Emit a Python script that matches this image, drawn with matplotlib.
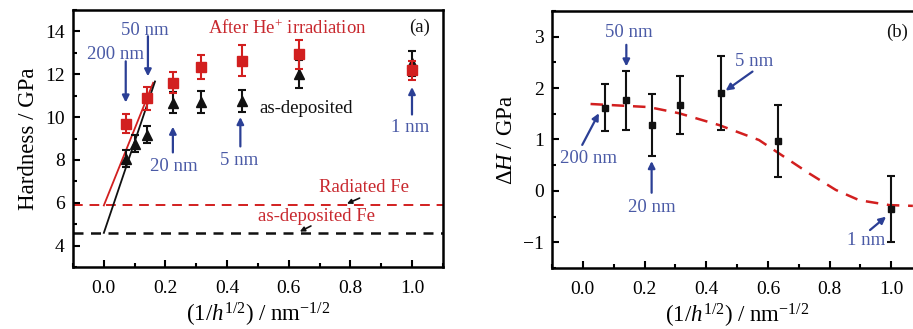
import matplotlib
matplotlib.use("Agg")
import matplotlib.pyplot as plt
import numpy as np

plt.rcParams['font.family'] = ['Liberation Serif', 'DejaVu Serif']
plt.rcParams['mathtext.fontset'] = 'custom'
plt.rcParams['mathtext.rm'] = 'Liberation Serif'
plt.rcParams['mathtext.it'] = 'Liberation Serif:italic'
plt.rcParams['mathtext.bf'] = 'Liberation Serif:bold'

# ---------------- data ----------------
# panel (a): hardness vs 1/sqrt(h)
irr_x = [0.0707, 0.1414, 0.2236, 0.3162, 0.4472, 0.6325, 1.0]
irr_y = [9.70, 10.87, 11.60, 12.33, 12.62, 12.93, 12.18]
irr_err = [0.45, 0.55, 0.50, 0.57, 0.72, 0.68, 0.45]

dep_x = [0.0707, 0.1, 0.1414, 0.2236, 0.3162, 0.4472, 0.6325, 1.0]
dep_y = [8.05, 8.75, 9.18, 10.67, 10.70, 10.75, 12.00, 12.50]
dep_err = [0.40, 0.40, 0.40, 0.50, 0.50, 0.50, 0.65, 0.60]

hp_irr_x = [0.0, 0.16]
hp_irr_y = [5.88, 11.60]
hp_dep_x = [0.0, 0.166]
hp_dep_y = [4.60, 11.66]

fe_radiated = 5.88
fe_deposited = 4.58

# panel (b): delta H
dh_x = [0.0707, 0.1414, 0.2236, 0.3162, 0.4472, 0.6325, 1.0]
dh_y = [1.62, 1.76, 1.28, 1.67, 1.90, 0.98, -0.35]
dh_err = [0.45, 0.57, 0.60, 0.57, 0.72, 0.70, 0.64]

fit_x = [0.025, 0.214, 0.312, 0.442, 0.571, 0.636, 0.734, 0.820, 0.896, 0.994, 1.07]
fit_y = [1.69, 1.63, 1.51, 1.28, 0.99, 0.73, 0.34, 0.02, -0.18, -0.275, -0.29]

x_ticks = [0.0, 0.2, 0.4, 0.6, 0.8, 1.0]
x_tick_labels = ["0.0", "0.2", "0.4", "0.6", "0.8", "1.0"]
a_yticks = [4, 6, 8, 10, 12, 14]
b_yticks = [-1, 0, 1, 2, 3]

# ---------------- styles ----------------
RED = '#d21f1f'
RED_TXT = '#c8282e'
BLUE_TXT = '#4a5aa6'
BLUE_ARR = '#2b3f95'
BLACK = '#111111'

fig = plt.figure(figsize=(9.13, 3.29), dpi=100)
axa = fig.add_axes([0.080, 0.188, 0.405, 0.782])
axb = fig.add_axes([0.6046, 0.185, 0.4054, 0.782])

def style(ax):
    for s in ax.spines.values():
        s.set_linewidth(1.8)
    ax.tick_params(which='both', direction='in', top=False, right=False, width=1.5, labelsize=14)
    ax.tick_params(which='major', length=5, pad=6)
    ax.tick_params(axis='x', which='major', pad=9)
    ax.tick_params(which='minor', length=3)
    ax.set_xticks(x_ticks)
    ax.set_xticklabels(x_tick_labels)
    ax.set_xticks(np.arange(-0.1, 1.11, 0.2), minor=True)
    ax.set_xlabel(r"$(1/h^{1/2})\ /\ \mathrm{nm}^{-1/2}$", fontsize=16.5, labelpad=3)

# ---------- panel (a) ----------
style(axa)
axa.set_xlim(-0.1, 1.1)
axa.set_ylim(3, 15)
axa.set_yticks(a_yticks)
axa.set_yticks(np.arange(3, 15.1, 2), minor=True)
axa.set_ylabel("Hardness / GPa", fontsize=16.5, labelpad=4)

axa.axhline(fe_radiated, color=RED, lw=1.4, ls=(0, (5, 3.5)))
axa.axhline(fe_deposited, color=BLACK, lw=1.8, ls=(0, (4, 3)))
axa.plot(hp_irr_x, hp_irr_y, color=RED, lw=1.3)
axa.plot(hp_dep_x, hp_dep_y, color=BLACK, lw=1.3)

axa.errorbar(dep_x, dep_y, yerr=dep_err, fmt='^', color=BLACK, ms=6.5, capsize=3,
             elinewidth=1.5, capthick=1.5, zorder=3)
axa.errorbar(irr_x, irr_y, yerr=irr_err, fmt='s', color=RED, ms=6.5, capsize=3,
             elinewidth=1.5, capthick=1.5, zorder=4)

axa.text(0.597, 14.14, r"After He$^{+}$ irradiation", color=RED_TXT, fontsize=13.5,
         ha='center', va='center')
axa.text(1.026, 14.2, "(a)", color=BLACK, fontsize=13.5, ha='center', va='center')
axa.text(0.656, 10.4, "as-deposited", color=BLACK, fontsize=13.5, ha='center', va='center')
axa.text(0.844, 6.71, "Radiated Fe", color=RED_TXT, fontsize=13.5, ha='center', va='center')
axa.text(0.69, 5.36, "as-deposited Fe", color=RED_TXT, fontsize=13.5, ha='center', va='center')

blk_arr = dict(arrowstyle='-|>', color=BLACK, lw=1.2, mutation_scale=7, shrinkA=0, shrinkB=0)
axa.annotate("", xy=(0.789, 5.96), xytext=(0.83, 6.22), arrowprops=blk_arr)
axa.annotate("", xy=(0.636, 4.66), xytext=(0.672, 4.92), arrowprops=blk_arr)

blue_arr = dict(arrowstyle='-|>', color=BLUE_ARR, lw=1.6, mutation_scale=10, shrinkA=0, shrinkB=0)
labels_a = [
    ("200 nm", (0.037, 12.93), (0.071, 12.6), (0.071, 10.68)),
    ("50 nm", (0.133, 14.05), (0.143, 13.77), (0.143, 11.9)),
    ("20 nm", (0.226, 7.7), (0.224, 8.35), (0.224, 9.55)),
    ("5 nm", (0.44, 7.97), (0.443, 8.63), (0.443, 10.0)),
    ("1 nm", (0.995, 9.51), (1.0, 10.12), (1.0, 11.4)),
]
for txt, tpos, start, end in labels_a:
    axa.text(tpos[0], tpos[1], txt, color=BLUE_TXT, fontsize=13.5, ha='center', va='center')
    axa.annotate("", xy=end, xytext=start, arrowprops=blue_arr)

# ---------- panel (b) ----------
style(axb)
axb.set_xlim(-0.1, 1.1)
axb.set_ylim(-1.5, 3.5)
axb.set_yticks(b_yticks)
axb.set_yticks(np.arange(-1.5, 3.6, 1.0), minor=True)
axb.set_yticklabels(["\u22121", "0", "1", "2", "3"])
axb.set_ylabel(r"$\mathit{\Delta H}$ / GPa", fontsize=16.5, labelpad=4)

axb.plot(fit_x, fit_y, color=RED, lw=1.8, ls=(0, (5, 3.5)), zorder=2)
axb.errorbar(dh_x, dh_y, yerr=dh_err, fmt='s', color=BLACK, ms=5, capsize=3,
             elinewidth=1.5, capthick=1.5, zorder=3)

axb.text(1.02, 3.09, "(b)", color=BLACK, fontsize=13.5, ha='center', va='center')
labels_b = [
    ("50 nm", (0.148, 3.07), (0.141, 2.84), (0.141, 2.42)),
    ("5 nm", (0.554, 2.51), (0.55, 2.32), (0.463, 1.95)),
    ("200 nm", (0.018, 0.64), (-0.002, 0.895), (0.052, 1.51)),
    ("20 nm", (0.225, -0.32), (0.223, -0.035), (0.223, 0.58)),
    ("1 nm", (0.918, -0.97), (0.931, -0.76), (0.983, -0.5)),
]
for txt, tpos, start, end in labels_b:
    axb.text(tpos[0], tpos[1], txt, color=BLUE_TXT, fontsize=13.5, ha='center', va='center')
    axb.annotate("", xy=end, xytext=start, arrowprops=blue_arr)

fig.savefig("out.png", dpi=100)
